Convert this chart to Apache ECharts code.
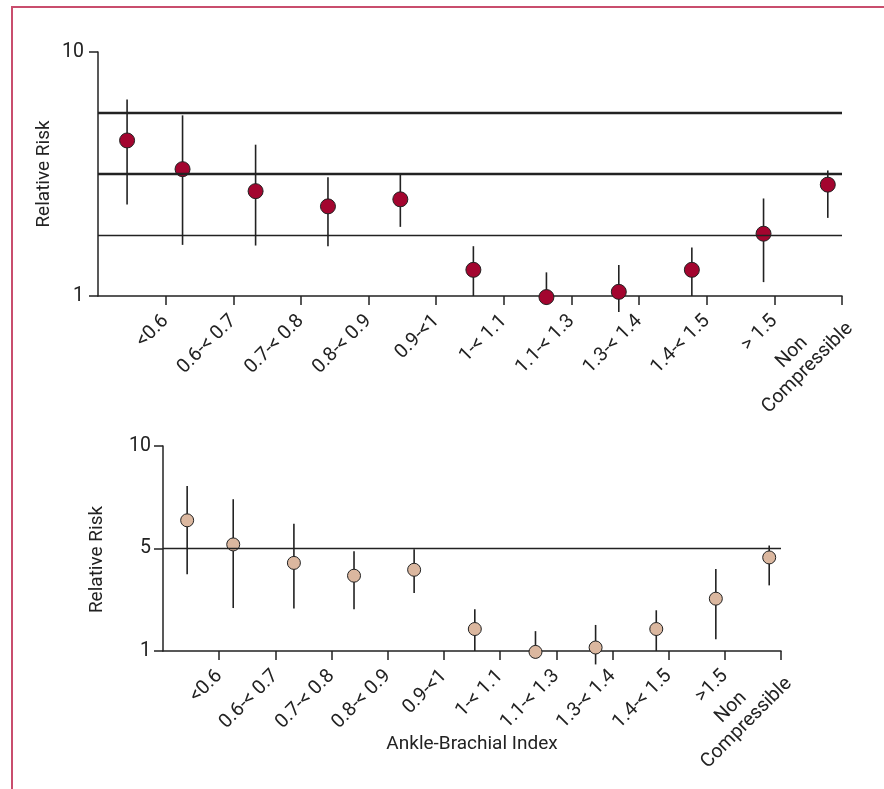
<!DOCTYPE html>
<html><head><meta charset="utf-8">
<script src="https://cdn.jsdelivr.net/npm/echarts@6/dist/echarts.min.js"></script>
<style>
html,body{margin:0;padding:0;background:#fff;}
#chart{width:884px;height:789px;position:absolute;left:0;top:0;}
#frame{position:absolute;left:11px;top:6px;right:0;bottom:0;border-left:2px solid #c94d6d;border-top:2px solid #c94d6d;pointer-events:none;}
</style></head><body>
<div id="chart"></div><div id="frame"></div>
<script>
// ---- data ----
const categoriesTop = ['<0.6', '0.6-< 0.7', '0.7-< 0.8', '0.8-< 0.9', '0.9-<1', '1-< 1.1', '1.1-< 1.3', '1.3-< 1.4', '1.4-< 1.5', '> 1.5', 'Non\nCompressible'];
const categoriesBottom = ['<0.6', '0.6-< 0.7', '0.7-< 0.8', '0.8-< 0.9', '0.9-<1', '1-< 1.1', '1.1-< 1.3', '1.3-< 1.4', '1.4-< 1.5', '>1.5', 'Non\nCompressible'];
const xTickValues = [1, 2, 3, 4, 5, 6, 7, 8, 9, 10, 11];
const xPositions = [0.43, 1.25, 2.33, 3.40, 4.47, 5.55, 6.63, 7.70, 8.78, 9.84, 10.79];
const relativeRisk = [4.34, 3.31, 2.69, 2.33, 2.49, 1.28, 0.99, 1.04, 1.28, 1.80, 2.86];
const ciLow = [2.37, 1.62, 1.61, 1.60, 1.92, 1.00, 0.92, 0.86, 1.00, 1.14, 2.09];
const ciHigh = [6.38, 5.50, 4.17, 3.07, 3.14, 1.60, 1.25, 1.34, 1.58, 2.51, 3.27];
const topRefLines = [1.78, 3.16, 5.62];
const topRefWidths = [1.4, 2.4, 2.4];
const bottomRefLines = [3.16];
const bottomYTickValues = [1, 3.16, 10];
const bottomYTickLabels = ['1', '5', '10'];

const FONT = "Roboto, 'Liberation Sans Narrow', 'DejaVu Sans Condensed', sans-serif";
const INK = '#222';
const LBL = 19.5;
const NAME = 19;

function catFormatter(cats) {
  return function (v) {
    const i = Math.round(v) - 1;
    if (i < 0 || i >= cats.length) return '';
    return cats[i].split('\n').map(s => '{c|' + s + '}').join('\n');
  };
}

function xAxisCfg(grid, cats, extra) {
  return Object.assign({
    type: 'value', gridIndex: grid, min: 0, max: 11, interval: 1,
    axisLine: { show: true, onZero: false, lineStyle: { color: INK, width: 1.5 } },
    axisTick: { show: true, length: 9, customValues: xTickValues, lineStyle: { color: INK, width: 1.5 } },
    axisLabel: {
      customValues: xTickValues, rotate: 45, margin: 22, formatter: catFormatter(cats),
      color: INK, fontFamily: FONT, fontSize: LBL,
      rich: { c: { align: 'center', fontFamily: FONT, fontSize: LBL, color: INK, lineHeight: 22 } }
    },
    splitLine: { show: false }
  }, extra || {});
}

function yAxisCfg(grid, extra) {
  return Object.assign({
    type: 'log', logBase: 10, gridIndex: grid, min: 1, max: 10,
    axisLine: { show: true, lineStyle: { color: INK, width: 1.5 } },
    axisTick: { show: true, length: 9, lineStyle: { color: INK, width: 1.5 } },
    axisLabel: { color: INK, fontFamily: FONT, fontSize: LBL },
    splitLine: { show: false },
    name: 'Relative Risk', nameLocation: 'middle', nameMoveOverlap: false,
    nameTextStyle: { color: INK, fontFamily: FONT, fontSize: NAME }
  }, extra || {});
}

const errData = xPositions.map((x, i) => [x, ciLow[i], ciHigh[i]]);
const ptData = xPositions.map((x, i) => [x, relativeRisk[i]]);

function errRender(params, api) {
  const lo = api.coord([api.value(0), api.value(1)]);
  const hi = api.coord([api.value(0), api.value(2)]);
  return { type: 'line', shape: { x1: lo[0], y1: lo[1], x2: hi[0], y2: hi[1] }, style: { stroke: INK, lineWidth: 1.6 } };
}

const chart = echarts.init(document.getElementById('chart'), null, { renderer: 'canvas' });
chart.setOption({
  animation: false,
  backgroundColor: '#fff',
  grid: [
    { left: 98, top: 52, width: 744, height: 244 },
    { left: 163, top: 446, width: 618, height: 205 }
  ],
  xAxis: [
    xAxisCfg(0, categoriesTop),
    xAxisCfg(1, categoriesBottom, {
      name: 'Ankle-Brachial Index', nameLocation: 'middle', nameGap: 84, nameMoveOverlap: false,
      nameTextStyle: { color: INK, fontFamily: FONT, fontSize: NAME }
    })
  ],
  yAxis: [
    yAxisCfg(0, { nameGap: 44, axisLabel: { color: INK, fontFamily: FONT, fontSize: LBL, margin: 14 } }),
    yAxisCfg(1, {
      nameGap: 56,
      nameTextStyle: { color: INK, fontFamily: FONT, fontSize: NAME, padding: [0, 22, 0, 0] },
      axisTick: { show: true, length: 9, customValues: bottomYTickValues, lineStyle: { color: INK, width: 1.5 } },
      axisLabel: {
        customValues: bottomYTickValues, color: INK, fontFamily: FONT, fontSize: LBL, margin: 12,
        formatter: function (v) {
          for (let j = 0; j < bottomYTickValues.length; j++) {
            if (Math.abs(Math.log10(v) - Math.log10(bottomYTickValues[j])) < 0.02) return bottomYTickLabels[j];
          }
          return '';
        }
      }
    })
  ],
  series: [
    {
      type: 'custom', xAxisIndex: 0, yAxisIndex: 0, data: errData, renderItem: errRender,
      encode: { x: 0, y: [1, 2] }, clip: false, z: 2, silent: true,
      markLine: {
        silent: true, symbol: 'none', label: { show: false },
        lineStyle: { color: INK, type: 'solid' },
        data: topRefLines.map((v, i) => ({ yAxis: v, lineStyle: { width: topRefWidths[i], color: INK, type: 'solid' } }))
      }
    },
    {
      type: 'scatter', xAxisIndex: 0, yAxisIndex: 0, data: ptData, symbolSize: 15, clip: false, z: 3,
      itemStyle: { color: '#a3052f', borderColor: INK, borderWidth: 1, opacity: 1 }
    },
    {
      type: 'custom', xAxisIndex: 1, yAxisIndex: 1, data: errData, renderItem: errRender,
      encode: { x: 0, y: [1, 2] }, clip: false, z: 2, silent: true,
      markLine: {
        silent: true, symbol: 'none', label: { show: false },
        lineStyle: { color: INK, type: 'solid', width: 1.4 },
        data: bottomRefLines.map(v => ({ yAxis: v }))
      }
    },
    {
      type: 'scatter', xAxisIndex: 1, yAxisIndex: 1, data: ptData, symbolSize: 13, clip: false, z: 3,
      itemStyle: { color: '#dbb79f', borderColor: INK, borderWidth: 1, opacity: 1 }
    }
  ]
});
</script>
</body></html>
